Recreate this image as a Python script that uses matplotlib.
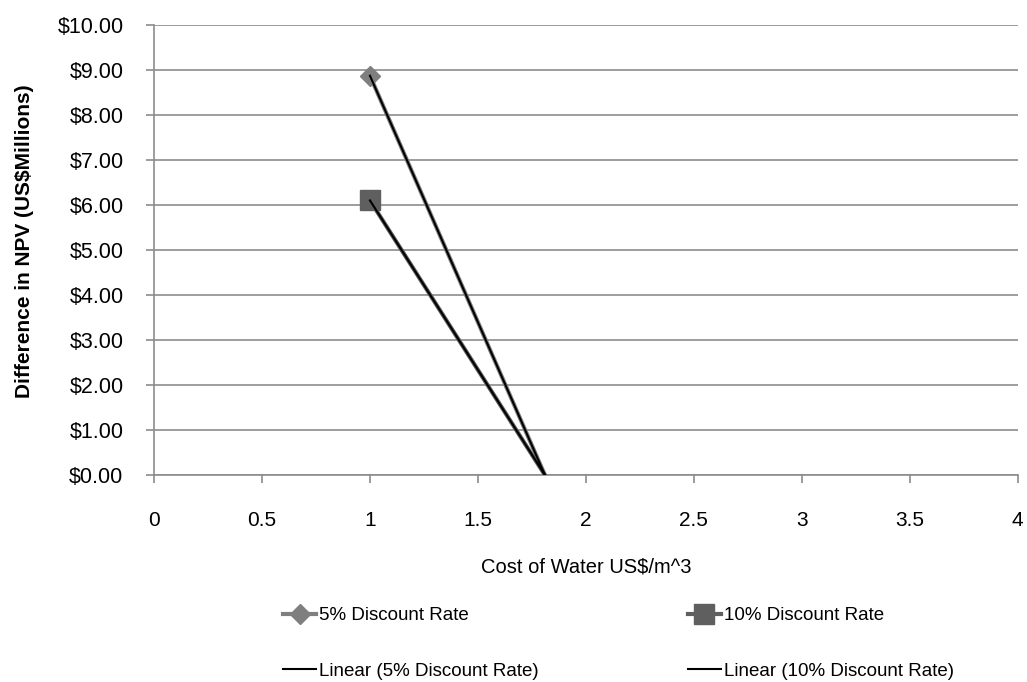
import numpy as np
import matplotlib
matplotlib.use("Agg")
import matplotlib.pyplot as plt
from matplotlib.legend import Legend

cost_x = [1.0, 1.81]
npv_5 = [8.87, 0.0]
npv_10 = [6.10, 0.0]
xticks = [0, 0.5, 1, 1.5, 2, 2.5, 3, 3.5, 4]
yticks = list(range(0, 11))

plt.rcParams['font.family'] = ['Liberation Sans', 'DejaVu Sans']

fig = plt.figure(figsize=(10.27, 6.82), dpi=100)
ax = fig.add_axes([0.15, 0.3035, 0.841, 0.66])

grid_c = '#8c8c8c'
ax.plot(cost_x, npv_5, color='#7f7f7f', lw=3, marker='D', markersize=10,
        markevery=[0], label='5% Discount Rate', zorder=3)
ax.plot(cost_x, npv_10, color='#5f5f5f', lw=3, marker='s', markersize=14.5,
        markevery=[0], label='10% Discount Rate', zorder=3)

p5 = np.polyfit(cost_x, npv_5, 1)
p10 = np.polyfit(cost_x, npv_10, 1)
xs = np.array(cost_x)
ax.plot(xs, np.polyval(p5, xs), color='black', lw=1.5, label='Linear (5% Discount Rate)', zorder=4)
ax.plot(xs, np.polyval(p10, xs), color='black', lw=1.5, label='Linear (10% Discount Rate)', zorder=4)

ax.set_xlim(0, 4)
ax.set_ylim(0, 10)
ax.set_xticks(xticks)
ax.set_xticklabels([f"{t:g}" for t in xticks], fontsize=15)
ax.set_yticks(yticks)
ax.set_yticklabels([f"${t:.2f}" for t in yticks], fontsize=15.5)
ax.yaxis.grid(True, color=grid_c, lw=1.2)
ax.set_axisbelow(True)
for s in ['top', 'right']:
    ax.spines[s].set_visible(False)
for s in ['left', 'bottom']:
    ax.spines[s].set_color(grid_c)
    ax.spines[s].set_linewidth(1.2)
ax.tick_params(axis='both', color=grid_c, length=6, width=1.2, direction='out')
ax.tick_params(axis='x', pad=20)
ax.tick_params(axis='y', pad=16)

ax.set_xlabel('Cost of Water US$/m^3', fontsize=14.5)
ax.xaxis.set_label_coords(0.5, -0.183)
ax.set_ylabel('Difference in NPV (US$Millions)', fontsize=15, fontweight='bold')
ax.yaxis.set_label_coords(-0.139, 0.52)

h, l = ax.get_legend_handles_labels()
for cols, xpos in [((0, 2), 0.276), ((1, 3), 0.670)]:
    leg = Legend(fig, [h[i] for i in cols], [l[i] for i in cols],
                 loc='upper left', bbox_to_anchor=(xpos, 0.11),
                 frameon=False, fontsize=13.5, handlelength=1.75, handletextpad=0.15,
                 labelspacing=2.05, borderpad=0, borderaxespad=0)
    fig.legends.append(leg)

fig.savefig('out.png', dpi=100)
